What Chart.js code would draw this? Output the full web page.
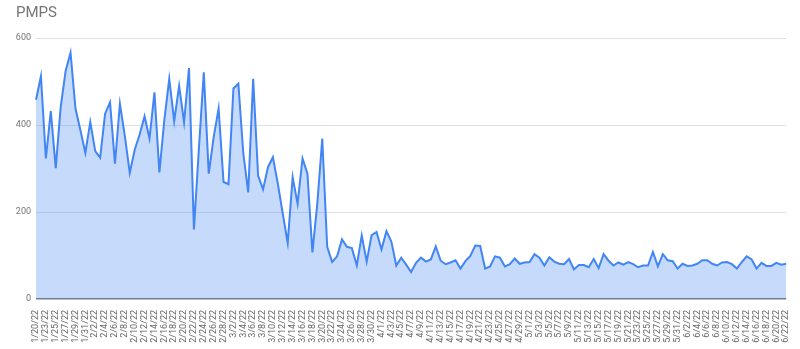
<!DOCTYPE html>
<html>
<head>
<meta charset="utf-8">
<script src="https://cdn.jsdelivr.net/npm/chart.js@4.4.1/dist/chart.umd.min.js"></script>
<style>
  html, body { margin: 0; padding: 0; background: #fff; }
  #wrap { width: 800px; height: 349px; }
</style>
</head>
<body>
<div id="wrap"><canvas id="pmpsChart" width="800" height="349"></canvas></div>
<script>
// ── data, one point per day (1/22 is missing in the source) ──
const dates = [
  '1/20/22','1/21/22','1/23/22','1/24/22','1/25/22','1/26/22','1/27/22','1/28/22','1/29/22','1/30/22','1/31/22',
  '2/1/22','2/2/22','2/3/22','2/4/22','2/5/22','2/6/22','2/7/22','2/8/22','2/9/22','2/10/22',
  '2/11/22','2/12/22','2/13/22','2/14/22','2/15/22','2/16/22','2/17/22','2/18/22','2/19/22','2/20/22',
  '2/21/22','2/22/22','2/23/22','2/24/22','2/25/22','2/26/22','2/27/22','2/28/22',
  '3/1/22','3/2/22','3/3/22','3/4/22','3/5/22','3/6/22','3/7/22','3/8/22','3/9/22','3/10/22',
  '3/11/22','3/12/22','3/13/22','3/14/22','3/15/22','3/16/22','3/17/22','3/18/22','3/19/22','3/20/22',
  '3/21/22','3/22/22','3/23/22','3/24/22','3/25/22','3/26/22','3/27/22','3/28/22','3/29/22','3/30/22','3/31/22',
  '4/1/22','4/2/22','4/3/22','4/4/22','4/5/22','4/6/22','4/7/22','4/8/22','4/9/22','4/10/22',
  '4/11/22','4/12/22','4/13/22','4/14/22','4/15/22','4/16/22','4/17/22','4/18/22','4/19/22','4/20/22',
  '4/21/22','4/22/22','4/23/22','4/24/22','4/25/22','4/26/22','4/27/22','4/28/22','4/29/22','4/30/22',
  '5/1/22','5/2/22','5/3/22','5/4/22','5/5/22','5/6/22','5/7/22','5/8/22','5/9/22','5/10/22',
  '5/11/22','5/12/22','5/13/22','5/14/22','5/15/22','5/16/22','5/17/22','5/18/22','5/19/22','5/20/22',
  '5/21/22','5/22/22','5/23/22','5/24/22','5/25/22','5/26/22','5/27/22','5/28/22','5/29/22','5/30/22','5/31/22',
  '6/1/22','6/2/22','6/3/22','6/4/22','6/5/22','6/6/22','6/7/22','6/8/22','6/9/22','6/10/22',
  '6/11/22','6/12/22','6/13/22','6/14/22','6/15/22','6/16/22','6/17/22','6/18/22','6/19/22','6/20/22',
  '6/21/22','6/22/22'
];

const pmpsJan = [458, 512, 323, 432, 301, 441, 524, 566, 438, 388, 336];
const pmpsFeb = [407, 340, 325, 426, 452, 311, 449, 375, 290, 343, 378, 420, 369, 475,
                 291, 411, 506, 409, 490, 406, 531, 160, 345, 521, 288, 372, 438, 269];
const pmpsMar = [264, 484, 495, 335, 245, 506, 284, 252, 303, 326, 265, 196, 129, 280, 219, 323,
                 288, 107, 220, 369, 120, 85, 98, 137, 120, 117, 77, 146, 86, 147, 154];
const pmpsApr = [114, 156, 132, 77, 95, 79, 62, 83, 95, 86, 91, 121, 88, 80, 84,
                 89, 70, 87, 99, 123, 122, 70, 75, 98, 95, 75, 80, 93, 81, 84];
const pmpsMay = [85, 103, 95, 77, 96, 86, 81, 80, 92, 68, 78, 78, 73, 92, 71, 103,
                 88, 77, 84, 79, 85, 80, 73, 77, 77, 108, 75, 103, 89, 87, 70];
const pmpsJun = [81, 76, 77, 81, 89, 89, 81, 77, 84, 85, 80, 70, 85, 98, 91, 70, 83, 76, 76, 83, 79, 81];

const yTicks = [0, 200, 400, 600];

const pmps = [].concat(pmpsJan, pmpsFeb, pmpsMar, pmpsApr, pmpsMay, pmpsJun);

new Chart(document.getElementById('pmpsChart'), {
  type: 'line',
  data: {
    labels: dates,
    datasets: [{
      label: 'PMPS',
      data: pmps,
      borderColor: '#4285f4',
      backgroundColor: 'rgba(66,133,244,0.3)',
      borderWidth: 2,
      fill: 'origin',
      tension: 0,
      pointRadius: 0
    }]
  },
  options: {
    responsive: false,
    animation: false,
    devicePixelRatio: 1,
    layout: { padding: { left: 16, right: 10, top: 0, bottom: 0 } },
    plugins: {
      legend: { display: false },
      tooltip: { enabled: false },
      title: {
        display: true,
        text: 'PMPS',
        align: 'start',
        color: '#757575',
        font: { family: 'Roboto', size: 15, weight: 'normal' },
        padding: { top: 4, bottom: 16 }
      }
    },
    scales: {
      x: {
        offset: false,
        grid: { display: false },
        border: { display: false },
        afterFit: s => { s.height = 50; },
        ticks: {
          autoSkip: false,
          minRotation: 90, maxRotation: 90,
          padding: 3,
          color: '#666',
          font: { family: 'Roboto', size: 9 },
          callback: function (v, i) { return i % 2 === 0 ? this.getLabelForValue(v) : ''; }
        }
      },
      y: {
        min: 0, max: 600,
        afterBuildTicks: s => { s.ticks = yTicks.map(v => ({ value: v })); },
        afterFit: s => { s.width = 20; },
        border: { display: false },
        grid: {
          color: c => c.tick && c.tick.value === 0 ? '#7a7a7a' : '#e0e0e0',
          lineWidth: c => c.tick && c.tick.value === 0 ? 1.5 : 1,
          drawTicks: false
        },
        ticks: {
          padding: 5,
          color: '#757575',
          font: { family: 'Roboto', size: 9 }
        }
      }
    }
  }
});
</script>
</body>
</html>
